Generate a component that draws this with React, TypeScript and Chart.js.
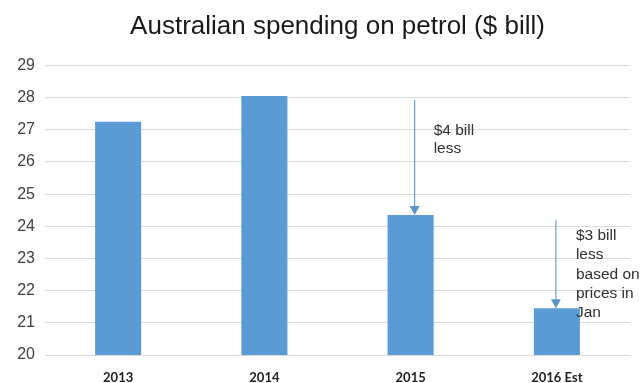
import React, { useEffect, useRef } from "react";
import { Chart, registerables } from "chart.js";

Chart.register(...registerables);

const categories = ["2013", "2014", "2015", "2016 Est"];
const spending = [27.25, 28.05, 24.35, 21.45];
const yTicks = [20, 21, 22, 23, 24, 25, 26, 27, 28, 29];
const titleText = "Australian spending on petrol ($ bill)";

// annotations: category index, arrow start value, arrow end value, text lines, text top value
const noteCategory = [2, 3];
const noteArrowFrom = [27.92, 24.19];
const noteArrowTo = [24.35, 21.45];
const noteTextTop = [26.96, 23.7];
const noteLines = [
  ["$4 bill", "less"],
  ["$3 bill", "less", "based on", "prices in", "Jan"],
];

const FONT = "'Liberation Sans', Arial, sans-serif";

const annotationPlugin = {
  id: "arrowNotes",
  afterDatasetsDraw(chart: any) {
    const ctx = chart.ctx;
    const xs = chart.scales.x;
    const ys = chart.scales.y;
    const meta = chart.getDatasetMeta(0);
    const area = chart.chartArea;
    ctx.save();
    // title centred over the plot area
    ctx.fillStyle = "#1a1a1a";
    ctx.font = "26px " + FONT;
    ctx.textAlign = "center";
    ctx.textBaseline = "alphabetic";
    ctx.fillText(titleText, (area.left + area.right) / 2, 34);

    noteCategory.forEach((ci, i) => {
      const bar = meta.data[ci];
      const cx = xs.getPixelForValue(ci) + (i === 0 ? 4 : -1);
      const y0 = ys.getPixelForValue(noteArrowFrom[i]);
      const y1 = ys.getPixelForValue(noteArrowTo[i]);
      ctx.strokeStyle = "#6a9fd2";
      ctx.fillStyle = "#5b93c9";
      ctx.lineWidth = 1.2;
      ctx.beginPath();
      ctx.moveTo(cx, y0);
      ctx.lineTo(cx, y1 - 8);
      ctx.stroke();
      ctx.beginPath();
      ctx.moveTo(cx - 5, y1 - 9);
      ctx.lineTo(cx + 5, y1 - 9);
      ctx.lineTo(cx, y1);
      ctx.closePath();
      ctx.fill();
      const tx = bar.x + bar.width / 2 + (i === 0 ? 0 : -4);
      const ty = ys.getPixelForValue(noteTextTop[i]);
      ctx.fillStyle = "#303030";
      ctx.font = "15.5px " + FONT;
      ctx.textAlign = "left";
      ctx.textBaseline = "middle";
      noteLines[i].forEach((line, li) => {
        ctx.fillText(line, tx, ty + li * (i === 0 ? 18 : 19.25));
      });
    });
    ctx.restore();
  },
};

export default function App() {
  const ref = useRef<HTMLCanvasElement | null>(null);
  useEffect(() => {
    if (!ref.current) return;
    const chart = new Chart(ref.current, {
      type: "bar",
      data: {
        labels: categories,
        datasets: [
          {
            data: spending,
            backgroundColor: "#5b9bd5",
            categoryPercentage: 1,
            barPercentage: 0.315,
          },
        ],
      },
      options: {
        responsive: false,
        animation: false,
        devicePixelRatio: 1,
        layout: { padding: { left: 0, right: 13, top: 0, bottom: 0 } },
        plugins: {
          legend: { display: false },
          tooltip: { enabled: false },
          title: {
            display: true,
            text: titleText,
            color: "rgba(0,0,0,0)",
            font: { family: FONT, size: 22, weight: "normal" },
            padding: { top: 14, bottom: 25 },
          },
        },
        scales: {
          x: {
            grid: { display: false },
            border: { display: false },
            ticks: {
              color: "#222222",
              font: { family: "Lato, 'Liberation Sans', sans-serif", size: 13, weight: "bold" },
              padding: 7,
            },
            afterFit(scale: any) {
              scale.height = 28;
            },
          },
          y: {
            min: 20,
            max: 29,
            afterBuildTicks(scale: any) {
              scale.ticks = yTicks.map((v) => ({ value: v }));
            },
            grid: { color: "#d9d9d9", drawTicks: false },
            border: { display: false },
            ticks: {
              color: "#404040",
              font: { family: FONT, size: 16 },
              padding: 10,
            },
            afterFit(scale: any) {
              scale.width = 45;
            },
          },
        },
      },
      plugins: [annotationPlugin],
    });
    return () => chart.destroy();
  }, []);
  return (
    <div style={{ position: "fixed", left: 0, top: 0, width: 643, height: 383, background: "#fff" }}>
      <canvas ref={ref} width={643} height={383} style={{ width: 643, height: 383 }} />
    </div>
  );
}
